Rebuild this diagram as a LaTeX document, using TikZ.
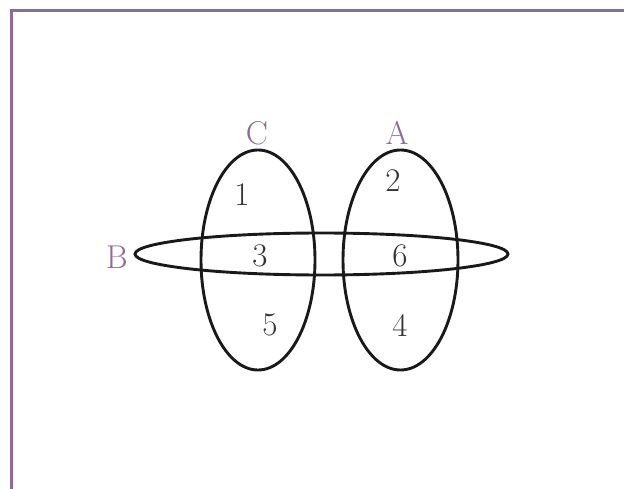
\documentclass[tikz,border=0pt]{standalone}
\usepackage{xcolor}
\definecolor{setpurple}{HTML}{8C6A9E}

\begin{document}
\begin{tikzpicture}[
  x=1pt, y=-1pt,
  font=\fontsize{33}{36}\selectfont,
  setline/.style={draw=black!90, line width=2.9pt},
  framel/.style={draw=setpurple, line width=3pt},
  setname/.style={text=setpurple, inner sep=0pt},
  region/.style={text=black!80, inner sep=0pt},
]
\useasboundingbox (0,0) rectangle (624,489);

%% ===== FRAME =====
\coordinate (fcorner) at (11,10.5);
\draw[framel] (11,489) -- (fcorner) -- (624,10.5);

%% ===== SETS =====
\draw[setline] (258,260) ellipse [x radius=57, y radius=110];
\draw[setline] (400.5,260) ellipse [x radius=57.5, y radius=110];
\draw[setline] (321.5,254) ellipse [x radius=186.5, y radius=21];

%% ===== SET NAMES =====
\node[setname] (nameC) at (257,133) {C};
\node[setname] (nameA) at (397,133) {A};
\node[setname] (nameB) at (117,257) {B};

%% ===== REGIONS =====
\node[region] (r1) at (242,195) {1};
\node[region] (r2) at (393,181) {2};
\node[region] (r3) at (260,256) {3};
\node[region] (r6) at (400,256) {6};
\node[region] (r5) at (270,325) {5};
\node[region] (r4) at (400,325) {4};

\end{tikzpicture}
\end{document}
